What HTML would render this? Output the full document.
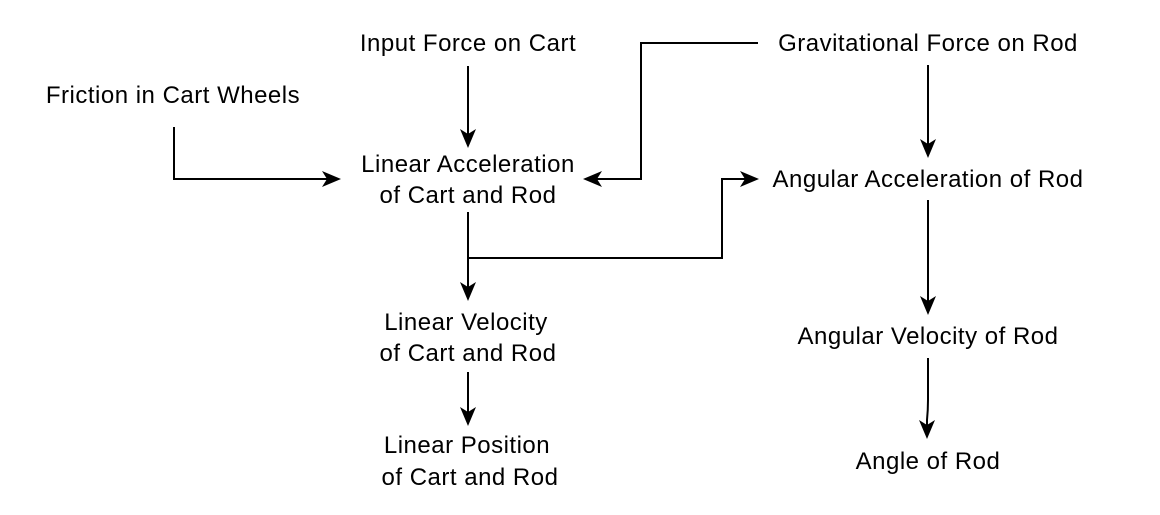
<!DOCTYPE html>
<html><head><meta charset="utf-8"><style>
html,body{margin:0;padding:0;background:#fff;}
svg{display:block}
text{font-family:"Liberation Sans",Arial,sans-serif;font-size:24px;letter-spacing:0.5px;fill:#000;text-anchor:middle}
</style></head><body>
<svg width="1160" height="515" viewBox="0 0 1160 515" xmlns="http://www.w3.org/2000/svg">
<g fill="none" stroke="#000" stroke-width="2">
<path d="M468,66 V135"/>
<path d="M174,127 V179 H328"/>
<path d="M758,43 H641 V179 H596"/>
<path d="M928,65 V145"/>
<path d="M468,212 V288"/>
<path d="M468,258 H722 V179 H746"/>
<path d="M928,200 V302"/>
<path d="M928,358 V400 Q928,410 927,420 V426"/>
<path d="M468,372 V413"/>
</g>
<g fill="#000">
<polygon points="468,148 460,129 468,134 476,129"/>
<polygon points="341,179 322,171 327,179 322,187"/>
<polygon points="583,179 602,171 597,179 602,187"/>
<polygon points="928,158 920,139 928,144 936,139"/>
<polygon points="468,301 460,282 468,287 476,282"/>
<polygon points="759,179 740,171 745,179 740,187"/>
<polygon points="928,315 920,296 928,301 936,296"/>
<polygon points="927,439 919,420 927,425 935,420"/>
<polygon points="468,426 460,407 468,412 476,407"/>
</g>
<text x="468" y="51">Input Force on Cart</text>
<text x="928" y="51">Gravitational Force on Rod</text>
<text x="173" y="103">Friction in Cart Wheels</text>
<text x="468" y="172">Linear Acceleration</text>
<text x="468" y="203">of Cart and Rod</text>
<text x="928" y="187">Angular Acceleration of Rod</text>
<text x="466" y="330">Linear Velocity</text>
<text x="468" y="361">of Cart and Rod</text>
<text x="928" y="344">Angular Velocity of Rod</text>
<text x="467" y="453">Linear Position</text>
<text x="470" y="485">of Cart and Rod</text>
<text x="928" y="469">Angle of Rod</text>
</svg>
</body></html>
